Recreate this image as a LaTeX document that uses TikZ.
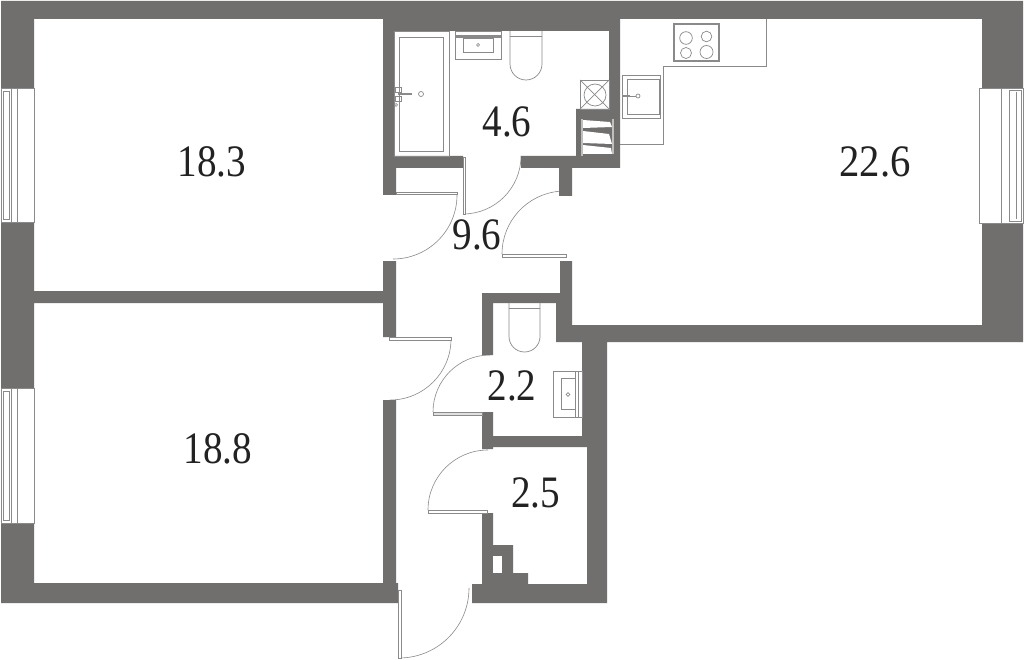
\documentclass[tikz,border=0pt]{standalone}
\usepackage{fontspec}
\setmainfont{Liberation Serif}
\definecolor{wallgray}{HTML}{706F6E}
\definecolor{linegray}{HTML}{8A8A8A}
\definecolor{textdark}{HTML}{222222}
\tikzset{
    wall/.style={fill=wallgray},
    fixture/.style={draw=linegray, line width=0.7pt},
    doorleaf/.style={draw=linegray, fill=white, line width=0.7pt},
    doorswing/.style={draw=linegray, line width=0.6pt},
    area/.style={text=textdark, font=\fontsize{45}{45}\selectfont, xscale=0.87, inner sep=0pt},
}

\begin{document}
\begin{tikzpicture}[x=1pt, y=1pt, yscale=-1]
        \useasboundingbox (0, 0) rectangle (1024, 660);
        \fill[white] (0, 0) rectangle (1024, 660);
        % door swings
        \draw[doorswing] (457, 195) arc (0:90:64);
        \draw[doorswing] (463, 214) arc (90:0:58);
        \draw[doorswing] (502, 254) arc (180:265:63);
        \draw[doorswing] (451, 339) arc (0:90:61);
        \draw[doorswing] (433, 412) arc (180:270:57);
        \draw[doorswing] (428, 510) arc (180:270:60);
        \draw[doorswing] (399, 658) arc (90:0:70);
        % walls
        \fill[wall] (1, 1) rectangle (1023, 19)
            (1, 19) rectangle (34, 88)
            (1, 222) rectangle (34, 388)
            (1, 523) rectangle (34, 603)
            (1, 583) rectangle (398, 603)
            (34, 291) rectangle (383, 303)
            (383, 19) rectangle (394, 168)
            (383, 168) rectangle (396, 195)
            (383, 261) rectangle (396, 337)
            (383, 400) rectangle (396, 584)
            (383, 19) rectangle (620, 31)
            (609, 31) rectangle (620, 109)
            (613, 109) rectangle (620, 168)
            (576, 109) rectangle (613, 119)
            (576, 119) rectangle (582, 156)
            (383, 156) rectangle (463, 168)
            (521, 156) rectangle (620, 168)
            (559, 168) rectangle (572, 196)
            (560, 261) rectangle (572, 325)
            (982, 19) rectangle (1023, 88)
            (982, 223) rectangle (1023, 342)
            (556, 325) rectangle (1023, 342)
            (482, 293) rectangle (572, 303)
            (482, 293) rectangle (493, 355)
            (482, 412) rectangle (493, 449)
            (556, 303) rectangle (572, 341)
            (582, 341) rectangle (607, 447)
            (587, 447) rectangle (607, 603)
            (482, 436) rectangle (607, 447)
            (482, 513) rectangle (493, 603)
            (493, 545) rectangle (513, 584)
            (513, 573) rectangle (528, 584)
            (472, 584) rectangle (607, 603);
        \fill[white] (493, 556) rectangle (502, 573);
        % door leaves
        \draw[doorleaf] (396, 192) rectangle (457, 194);
        \draw[doorleaf] (463, 157) rectangle (465, 214);
        \draw[doorleaf] (502, 254) rectangle (566, 257);
        \draw[doorleaf] (389, 337) rectangle (451, 340);
        \draw[doorleaf, fill=black!12] (433, 412) rectangle (482, 415);
        \draw[doorleaf] (428, 510) rectangle (487, 513);
        \draw[doorleaf] (398, 590) rectangle (401, 658);
        % windows
        \draw[fixture, fill=white] (1, 88) rectangle (34, 222);
        \draw[fixture] (11, 88) -- (11, 222);
        \draw[fixture] (17, 88) -- (17, 222);
        \draw[fixture] (3, 91) rectangle (9, 219);
        \draw[fixture, fill=white] (1, 388) rectangle (34, 523);
        \draw[fixture] (11, 388) -- (11, 523);
        \draw[fixture] (17, 388) -- (17, 523);
        \draw[fixture] (3, 391) rectangle (9, 520);
        \draw[fixture, fill=white] (979, 88) rectangle (1023, 223);
        \draw[fixture] (1001, 88) -- (1001, 223);
        \draw[fixture] (1009, 90) rectangle (1021, 221);
        \draw[fixture] (1016, 92) -- (1016, 219);
        % bath
        \draw[fixture] (394, 31) rectangle (449, 156);
        \draw[fixture] (399, 37) rectangle (443, 151);
        \draw[fixture] (421, 94) circle (2.5);
        \draw[fixture, line width=1.2pt] (398, 94) -- (412, 94);
        \draw[fixture] (395, 87) rectangle (401, 92);
        \draw[fixture] (395, 96) rectangle (401, 101);
        \draw[fixture] (396, 105) circle (1.5);
        % basin and toilet
        \draw[fixture] (455, 31) rectangle (501, 59);
        \fill[linegray] (455, 35) rectangle (501, 38);
        \draw[fixture] (463, 38) rectangle (493, 52);
        \draw[fixture] (478, 45) circle (1.5);
        \draw[fixture] (510, 31) -- (510, 64) arc (180:0:16) -- (542, 31);
        \draw[fixture] (510, 36) -- (542, 36);
        % washer
        \draw[fixture] (580, 80) rectangle (609, 109);
        \draw[fixture] (580, 80) -- (609, 109);
        \draw[fixture] (580, 109) -- (609, 80);
        \draw[fixture] (595, 95) circle (11);
        % shaft
        \fill[wallgray] (581, 118) rectangle (614, 156);
        \fill[black!25] (581, 119) rectangle (583, 156);
        \fill[black!25] (612, 119) rectangle (614, 154);
        \fill[white] (583, 120) -- (610, 122) -- (612, 127) -- (583, 128) -- cycle;
        \fill[white] (583, 131) -- (609, 134) -- (612, 144) -- (583, 143) -- cycle;
        \fill[white] (583, 145) -- (611, 148) -- (612, 154) -- (583, 154) -- cycle;
        % kitchen
        \draw[fixture] (766, 19) -- (766, 66) -- (663, 66) -- (663, 144) -- (620, 144);
        \draw[fixture, line width=1.2pt] (674, 24) rectangle (719, 61);
        \draw[fixture] (686, 38) circle (6.3);
        \draw[fixture] (706.5, 36.5) circle (5.3);
        \draw[fixture] (686, 53) circle (5.5);
        \draw[fixture] (706.5, 52) circle (6.5);
        \draw[fixture] (622, 75) rectangle (660, 118);
        \draw[fixture] (627, 79) rectangle (659, 114);
        \draw[fixture, line width=2.2pt] (622, 96) -- (630, 96);
        \draw[fixture] (630, 96) -- (636, 96);
        \draw[fixture] (638, 96) circle (2);
        % wc
        \draw[fixture] (509, 303) -- (509, 336.5) arc (180:0:15.5) -- (540, 303);
        \draw[fixture] (509, 308) -- (540, 308);
        \draw[fixture] (553, 371) rectangle (582, 417);
        \draw[fixture] (575, 371) rectangle (578, 417);
        \draw[fixture] (561, 378) rectangle (575, 409);
        \draw[fixture] (568, 394.5) circle (1.8);
        % areas
        \node[area] (bedroomone) at (212, 162) {18.3};
        \node[area, xscale=1.04] (kitchen) at (875, 162) {22.6};
        \node[area] (bath) at (507, 122) {4.6};
        \node[area] (hall) at (477, 235) {9.6};
        \node[area] (wc) at (512, 386) {2.2};
        \node[area] (store) at (535.5, 493) {2.5};
        \node[area] (bedroomtwo) at (218, 449) {18.8};
    \end{tikzpicture}
\end{document}
